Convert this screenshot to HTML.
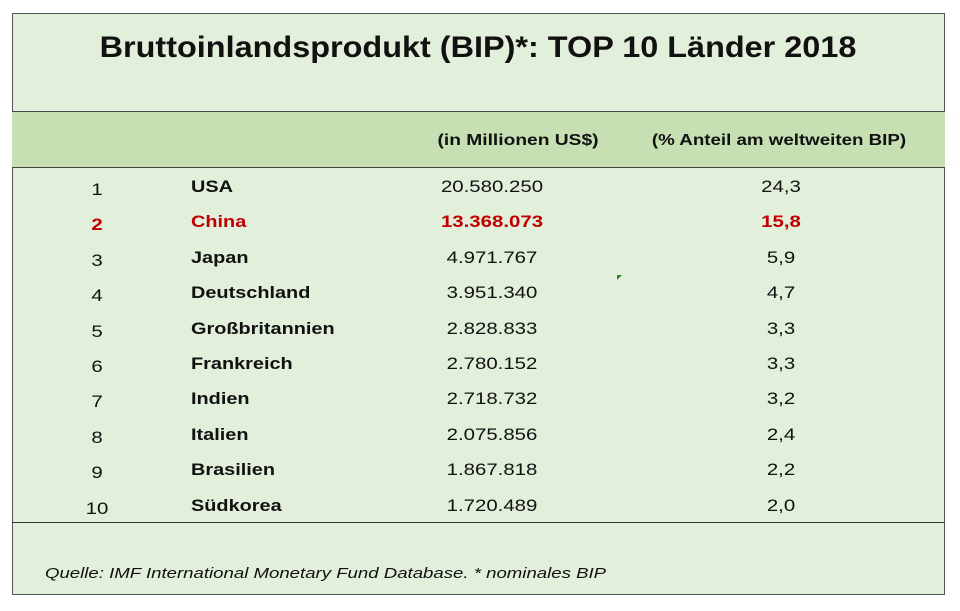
<!DOCTYPE html>
<html><head><meta charset="utf-8"><style>
body{margin:0;width:960px;height:611px;background:#fff;font-family:"Liberation Sans",sans-serif;position:relative;overflow:hidden}
.box{position:absolute;left:12px;top:13px;width:931px;height:580px;border:1px solid #555;background:#e2efda}
.hdr{position:absolute;left:12px;top:111px;width:933px;height:55px;background:#c6e0b4;border-top:1px solid #444;border-bottom:1px solid #444}
.t{position:absolute;white-space:nowrap;color:#111;transform-origin:0 0}
.b{font-weight:bold}
.red{color:#c00000}
.line{position:absolute;left:12px;width:933px;height:1px;background:#333}
</style></head><body>
<div class="box"></div>
<div class="hdr"></div>
<div class="line" style="top:522px"></div>
<div class="t b" style="left:478px;top:31px;font-size:30px;transform:translateX(-50%) scaleX(1.08);transform-origin:50% 0">Bruttoinlandsprodukt (BIP)*: TOP 10 Länder 2018</div>
<div class="t b" style="left:518px;top:132px;font-size:16px;transform:translateX(-50%) scaleX(1.2);transform-origin:50% 0">(in Millionen US$)</div>
<div class="t b" style="left:779px;top:132px;font-size:16px;transform:translateX(-50%) scaleX(1.17);transform-origin:50% 0">(% Anteil am weltweiten BIP)</div>
<div id="rows"></div>
<div class="t" style="left:45px;top:565px;font-size:15px;font-style:italic;transform:scaleX(1.24)">Quelle: IMF International Monetary Fund Database. * nominales BIP</div>
<div style="position:absolute;left:617px;top:275px;width:0;height:0;border-top:5px solid #2a8a2a;border-right:5px solid transparent"></div>
<script>
var d=[["1","USA","20.580.250","24,3"],["2","China","13.368.073","15,8"],["3","Japan","4.971.767","5,9"],["4","Deutschland","3.951.340","4,7"],["5","Großbritannien","2.828.833","3,3"],["6","Frankreich","2.780.152","3,3"],["7","Indien","2.718.732","3,2"],["8","Italien","2.075.856","2,4"],["9","Brasilien","1.867.818","2,2"],["10","Südkorea","1.720.489","2,0"]];
var h="";var C='transform:translateX(-50%) scaleX(1.2);transform-origin:50% 0;';
d.forEach(function(r,i){var y=177+i*35.4;var red=i==1?" red b":"";
h+='<div class="t'+red+'" style="'+C+'left:97px;top:'+(y+3)+'px;font-size:17px">'+r[0]+'</div>';
h+='<div class="t b'+red+'" style="left:191px;top:'+y+'px;font-size:17px;transform:scaleX(1.17)">'+r[1]+'</div>';
h+='<div class="t'+red+'" style="'+C+'left:492px;top:'+y+'px;font-size:17px">'+r[2]+'</div>';
h+='<div class="t'+red+'" style="'+C+'left:781px;top:'+y+'px;font-size:17px">'+r[3]+'</div>';});
document.getElementById("rows").innerHTML=h;
</script>
</body></html>
